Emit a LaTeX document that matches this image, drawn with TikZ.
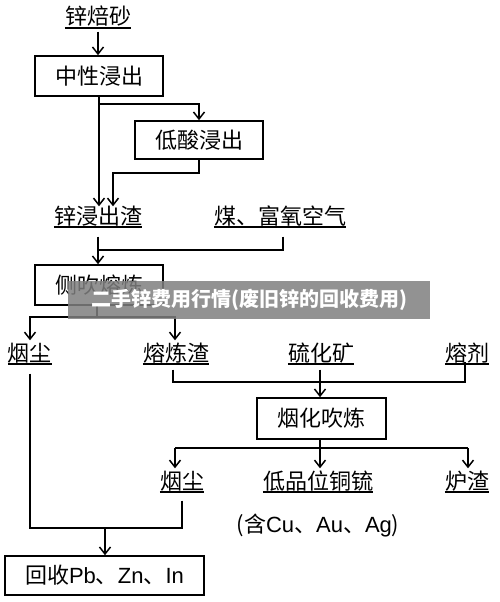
\documentclass[tikz,border=0pt]{standalone}
\usepackage{fontspec}
\newfontfamily\cjk{Noto Sans CJK SC}
\newfontfamily\lat{Liberation Sans}
\usetikzlibrary{arrows.meta}
\begin{document}
\begin{tikzpicture}[x=1pt,y=-1pt,
  every node/.style={font=\cjk\fontsize{22}{24}\selectfont},
  ul/.style={inner xsep=0pt, inner ysep=1.5pt, text height=19pt, text depth=3pt},
  uline/.style={draw=black, line width=1.3pt},
  stepbox/.style={draw, line width=1.6pt, minimum width=128pt, minimum height=40pt, inner sep=0pt},
  ln/.style={line width=1.5pt},
  arr/.style={line width=1.5pt, -{Straight Barb[length=7pt,width=11pt,line width=1.5pt]}},
]
\useasboundingbox (0,0) rectangle (500,602);
\fill[white] (0,0) rectangle (500,602);

% nodes
\node[ul] (zbs) at (98,17) {锌焙砂};
\node[stepbox] (b1) at (99,76) {中性浸出};
\node[stepbox, minimum height=38pt] (b2) at (199,140) {低酸浸出};
\node[ul] (zjc) at (98,216) {锌浸出渣};
\node[ul] (mei) at (280,216) {煤、富氧空气};
\node[stepbox] (b3) at (99,285) {侧吹熔炼};
\node[ul] (yc1) at (30,353) {烟尘};
\node[ul] (rlz) at (176,353) {熔炼渣};
\node[ul] (lhk) at (321,353) {硫化矿};
\node[ul] (rj) at (467,353) {熔剂};
\node[stepbox, minimum width=129pt, minimum height=41pt] (b4) at (321.5,418.5) {烟化吹炼};
\node[ul] (yc2) at (182,481) {烟尘};
\node[ul] (dpw) at (318,481) {低品位铜锍};
\node[ul] (lz) at (467,481) {炉渣};
\node (han) at (318,525) {(含{\lat Cu}、{\lat Au}、{\lat Ag})};
\node[stepbox, minimum width=199pt, minimum height=39pt] (b5) at (104.5,575.5) {回收{\lat Pb}、{\lat Zn}、{\lat In}};

% underlines
\path[uline] ([yshift=-3pt]zbs.base west) -- ([yshift=-3pt]zbs.base east);
\path[uline] ([yshift=-3pt]zjc.base west) -- ([yshift=-3pt]zjc.base east);
\path[uline] ([yshift=-3pt]mei.base west) -- ([yshift=-3pt]mei.base east);
\path[uline] ([yshift=-3pt]yc1.base west) -- ([yshift=-3pt]yc1.base east);
\path[uline] ([yshift=-3pt]rlz.base west) -- ([yshift=-3pt]rlz.base east);
\path[uline] ([yshift=-3pt]lhk.base west) -- ([yshift=-3pt]lhk.base east);
\path[uline] ([yshift=-3pt]rj.base west) -- ([yshift=-3pt]rj.base east);
\path[uline] ([yshift=-3pt]yc2.base west) -- ([yshift=-3pt]yc2.base east);
\path[uline] ([yshift=-3pt]dpw.base west) -- ([yshift=-3pt]dpw.base east);
\path[uline] ([yshift=-3pt]lz.base west) -- ([yshift=-3pt]lz.base east);

% junctions
\coordinate (j1) at (99,104);
\coordinate (j2) at (113,173);
\coordinate (j3) at (98,250);
\coordinate (j4) at (97,317);
\coordinate (j5) at (320,382);
\coordinate (j6) at (320,448);
\coordinate (j6l) at (175,448);
\coordinate (j6r) at (468,448);
\coordinate (j7) at (105,528);

% connectors
\draw[arr, shorten <=2pt] (zbs.south) -- (zbs.south |- b1.north);
\draw[arr] (b1.south) -- ([yshift=-3pt]b1.south |- zjc.north);
\draw[arr] (j1) -| (b2.north);
\draw[arr] (b2.south) |- (j2) -- ([yshift=-3pt]j2 |- zjc.north);
\draw[arr, shorten <=8pt] (zjc.south) -- (zjc.south |- b3.north);
\draw[ln, shorten <=8pt] (mei.south -| 283,0) |- (j3);
\draw[ln] (b3.south -| j4) -- (j4);
\draw[arr] (j4) -| (yc1.north -| 30,0);
\draw[arr] (j4) -| (rlz.north -| 175,0);
\draw[ln] (rlz.south -| 173,0) ++(0,4) |- (j5) -| ([yshift=4pt]rj.south -| 465,0);
\draw[arr, shorten <=4pt] (lhk.south -| j5) -- (j5 |- b4.north);
\draw[ln] (b4.south -| j6) -- (j6);
\draw[ln] (j6l) -- (j6r);
\draw[arr] (j6l) -- (j6l |- yc2.north);
\draw[arr] (j6) -- (j6 |- dpw.north);
\draw[arr] (j6r) -- (j6r |- lz.north);
\draw[ln, shorten <=8pt] (yc1.south -| 30,0) |- (j7);
\draw[ln, shorten <=7pt] (yc2.south) |- (j7);
\draw[arr] (j7) -- (j7 |- b5.north);

% watermark banner
\node[fill=black!50, opacity=0.85, text opacity=1, minimum width=362pt, minimum height=38pt, inner sep=0pt,
  text=white, font=\cjk\bfseries\fontsize{20}{22}\selectfont] (wm) at (249,300) {二手锌费用行情(废旧锌的回收费用)};
\end{tikzpicture}
\end{document}
